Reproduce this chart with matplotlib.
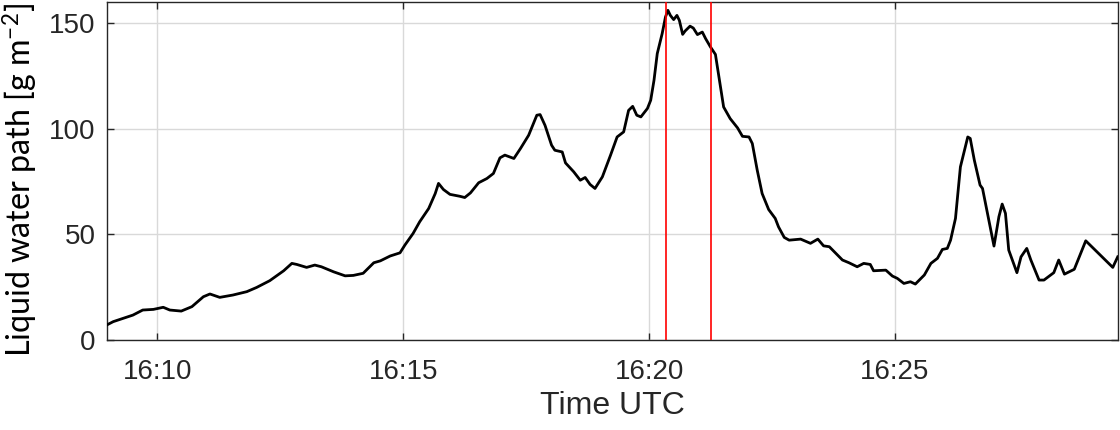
import matplotlib
matplotlib.use("Agg")
import matplotlib.pyplot as plt
import matplotlib.dates as mdates
import pandas as pd

# ---- data ----
times = [
    "16:08:58", "16:09:06", "16:09:30", "16:09:42", "16:09:55", "16:10:07", "16:10:15", "16:10:29",
    "16:10:42", "16:10:56", "16:11:04", "16:11:16", "16:11:32", "16:11:49", "16:12:01", "16:12:17",
    "16:12:34", "16:12:44", "16:12:50", "16:13:02", "16:13:12", "16:13:20", "16:13:35", "16:13:49",
    "16:13:59", "16:14:11", "16:14:24", "16:14:32", "16:14:44", "16:14:56", "16:15:02", "16:15:12",
    "16:15:20", "16:15:31", "16:15:39", "16:15:43", "16:15:49", "16:15:57", "16:16:09", "16:16:15",
    "16:16:22", "16:16:32", "16:16:42", "16:16:50", "16:16:58", "16:17:04", "16:17:15", "16:17:23",
    "16:17:33", "16:17:43", "16:17:47", "16:17:53", "16:18:01", "16:18:05", "16:18:14", "16:18:18",
    "16:18:28", "16:18:36", "16:18:42", "16:18:48", "16:18:54", "16:19:03", "16:19:13", "16:19:21",
    "16:19:29", "16:19:35", "16:19:40", "16:19:45", "16:19:50", "16:19:58", "16:20:02", "16:20:06",
    "16:20:10", "16:20:16", "16:20:20", "16:20:23", "16:20:26", "16:20:30", "16:20:34", "16:20:37",
    "16:20:41", "16:20:44", "16:20:50", "16:20:54", "16:20:59", "16:21:05", "16:21:09", "16:21:15",
    "16:21:21", "16:21:25", "16:21:31", "16:21:39", "16:21:48", "16:21:54", "16:22:02", "16:22:06",
    "16:22:12", "16:22:18", "16:22:26", "16:22:34", "16:22:38", "16:22:45", "16:22:51", "16:23:05",
    "16:23:17", "16:23:26", "16:23:33", "16:23:40", "16:23:56", "16:24:04", "16:24:14", "16:24:22",
    "16:24:30", "16:24:34", "16:24:49", "16:24:57", "16:25:03", "16:25:11", "16:25:19", "16:25:25",
    "16:25:36", "16:25:44", "16:25:52", "16:25:58", "16:26:04", "16:26:08", "16:26:14", "16:26:20",
    "16:26:29", "16:26:32", "16:26:37", "16:26:44", "16:26:47", "16:27:01", "16:27:07", "16:27:11",
    "16:27:15", "16:27:19", "16:27:29", "16:27:34", "16:27:41", "16:27:46", "16:27:56", "16:28:02",
    "16:28:14", "16:28:20", "16:28:27", "16:28:39", "16:28:53", "16:29:26", "16:29:32",
]
lwp = [
    7.1, 8.7, 11.8, 14.2, 14.5, 15.5, 14.2, 13.7,
    15.8, 20.5, 21.8, 20.2, 21.3, 22.9, 24.9, 28.1,
    32.8, 36.3, 35.8, 34.4, 35.5, 34.7, 32.3, 30.4,
    30.6, 31.6, 36.6, 37.5, 39.8, 41.3, 45.0, 50.5,
    56.0, 62.3, 69.4, 74.2, 71.3, 69.0, 68.1, 67.5,
    69.7, 74.5, 76.5, 78.9, 86.3, 87.6, 86.0, 90.7,
    97.0, 106.5, 106.8, 101.7, 92.3, 89.9, 89.1, 83.9,
    79.7, 75.7, 77.0, 73.7, 71.8, 77.3, 87.6, 96.2,
    98.6, 108.8, 110.7, 106.5, 105.7, 109.7, 113.6, 123.0,
    135.7, 145.2, 153.0, 156.2, 153.8, 151.8, 153.8, 151.4,
    144.8, 146.4, 148.7, 147.8, 144.7, 145.9, 142.8, 138.8,
    135.3, 125.4, 110.4, 104.9, 100.5, 96.5, 96.2, 93.1,
    80.5, 69.4, 61.8, 57.6, 53.6, 48.6, 47.3, 47.8,
    45.8, 47.8, 44.6, 44.2, 37.9, 36.6, 34.7, 36.3,
    35.8, 32.8, 33.1, 30.3, 29.2, 26.8, 27.6, 26.5,
    30.8, 36.3, 38.7, 42.9, 43.4, 47.3, 57.6, 82.0,
    96.2, 95.5, 85.2, 73.4, 71.8, 44.5, 58.4, 64.4,
    60.0, 42.6, 31.9, 39.4, 43.4, 37.9, 28.4, 28.4,
    31.9, 37.9, 31.2, 33.5, 47.0, 34.4, 39.4,
]
marker_times = ["16:20:21", "16:21:15"]
x_limits = ["16:08:58", "16:29:32"]
y_limits = [0, 160]
y_ticks = [0, 50, 100, 150]
x_tick_minutes = [10, 15, 20, 25]

day = "2020-01-01 "
t = pd.to_datetime([day + s for s in times])
tm = pd.to_datetime([day + s for s in marker_times])
xl = pd.to_datetime([day + s for s in x_limits])

plt.rcParams["font.family"] = ["Liberation Sans", "DejaVu Sans"]
plt.rcParams["mathtext.fontset"] = "custom"
plt.rcParams["mathtext.rm"] = "Lato"
plt.rcParams["mathtext.default"] = "rm"

axc = "#262626"
fig = plt.figure(figsize=(11.2, 4.3), dpi=100)
ax = fig.add_axes([106.7 / 1120, 1 - 340 / 430, (1117.7 - 106.7) / 1120, (340 - 2.3) / 430])

ax.plot(t, lwp, color="black", lw=2.0, zorder=3)
for m in tm:
    ax.axvline(m, color="red", lw=1.2, zorder=4)

ax.set_xlim(xl[0], xl[1])
ax.set_ylim(*y_limits)
ax.set_yticks(y_ticks)
ax.xaxis.set_major_locator(mdates.MinuteLocator(byminute=x_tick_minutes))
ax.xaxis.set_major_formatter(mdates.DateFormatter("%H:%M"))

ax.grid(True, color="#d9d9d9", lw=1.0, zorder=0)
ax.set_axisbelow(True)
for s in ax.spines.values():
    s.set_color(axc)
    s.set_linewidth(1.0)
ax.tick_params(axis="both", direction="in", length=5, width=1.0, color=axc,
               labelcolor=axc, labelsize=20, top=True, right=True)
ax.tick_params(axis="x", pad=14)
ax.tick_params(axis="y", pad=8)

ax.set_xlabel("Time UTC", fontsize=23, color=axc, labelpad=4)
fig.text(20 / 1120, 1 - 180 / 430, "Liquid water path [g m$^{-2}$]", rotation=90,
         ha="center", va="center", fontsize=23.2, family="Lato", color="black")

fig.savefig("out.png", dpi=100)
